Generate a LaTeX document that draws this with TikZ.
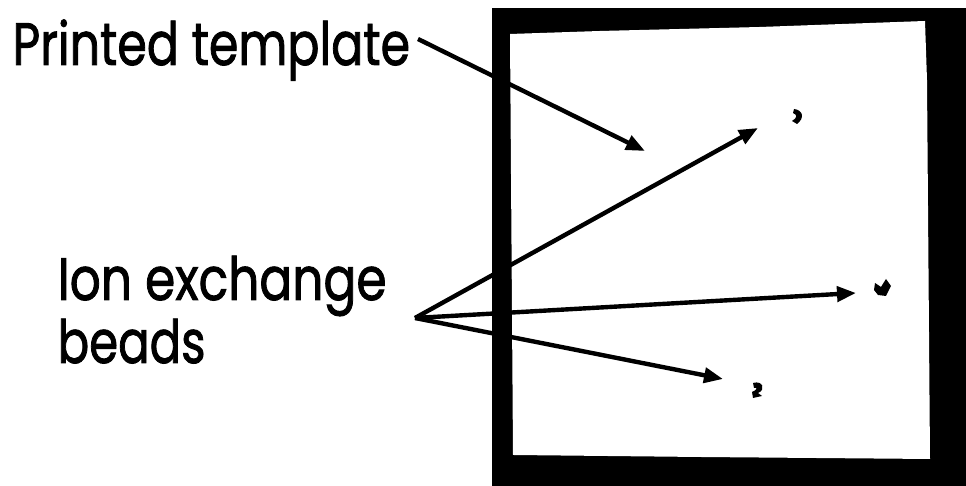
\documentclass[tikz,border=0pt]{standalone}
\usepackage{fontspec}
\setmainfont{Poppins}
\newfontfamily\lblfont{Poppins}[FakeBold=1.6]
\usetikzlibrary{arrows.meta}
\begin{document}
\begin{tikzpicture}[x=0.01cm,y=-0.01cm,
  lbl/.style={anchor=base west,inner sep=0pt,font=\lblfont\fontsize{17}{20}\selectfont},
  ptr/.style={line width=1.25pt,-{Triangle[length=0.19cm,width=0.15cm]}},
  bead/.style={fill=black}]
\useasboundingbox (0,0) rectangle (966,486);
% photo frame
\fill[black] (492,8) -- (966,8) -- (966,486) -- (492,486) -- cycle;
\fill[white] (510,34) -- (600,31) -- (760,27) -- (925,21) -- (927,80) -- (930,459) -- (700,457) -- (513,455) -- cycle;
% beads
\fill[bead] (794,109) .. controls (803,110) and (805,118) .. (797,124) -- (792,121) .. controls (797,118) and (798,115) .. (793,113) -- cycle;
\fill[bead] (875,283) -- (881,287) -- (886,279) -- (891,286) -- (886,296) -- (878,295) -- (874,290) -- cycle;
\fill[bead] (753,383) .. controls (763,380) and (766,390) .. (758,393) -- (762,396) -- (753,398) -- (752,392) .. controls (757,390) and (758,387) .. (754,388) -- cycle;
% labels
\node[lbl] (pt) at (12,65) {\scalebox{0.795}[1]{Printed template}};
\node[lbl] (ie) at (57,300) {\scalebox{0.815}[1]{Ion exchange}};
\node[lbl] (bd) at (57,363) {\scalebox{0.78}[1]{beads}};
% connectors
\coordinate (ptstart) at (418,39);
\coordinate (ptend) at (645,151);
\coordinate (apex) at (415,318);
\coordinate (b1) at (758,128);
\coordinate (b2) at (856,293);
\coordinate (b3) at (723,379);
\draw[ptr] (ptstart) -- (ptend);
\draw[ptr] (apex) -- (b1);
\draw[ptr] (apex) -- (b2);
\draw[ptr] (apex) -- (b3);
\end{tikzpicture}
\end{document}
